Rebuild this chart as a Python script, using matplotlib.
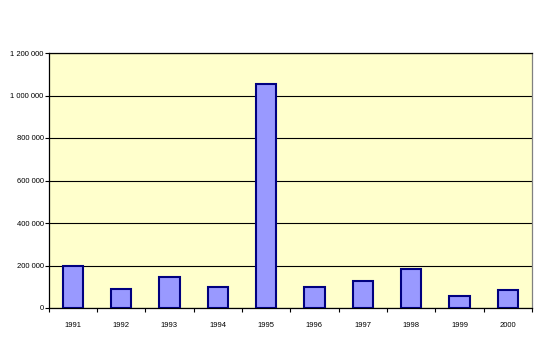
import matplotlib
matplotlib.use("Agg")
import matplotlib.pyplot as plt
import numpy as np
from matplotlib.ticker import FuncFormatter, FixedLocator

years = ["1991", "1992", "1993", "1994", "1995", "1996", "1997", "1998", "1999", "2000"]
values = [198000, 89000, 147000, 99000, 1056000, 99000, 128000, 185000, 56000, 84000]
yticks = [0, 200000, 400000, 600000, 800000, 1000000, 1200000]

plt.rcParams['font.family'] = ['Liberation Sans', 'DejaVu Sans']

fig = plt.figure(figsize=(5.43, 3.37), dpi=100)
fig.patch.set_facecolor('white')
ax = fig.add_axes([48.5/543, (337-308)/337, (532-48.5)/543, (308-53)/337])
ax.set_facecolor('#FFFFCC')

x = np.arange(len(years))
ax.bar(x, values, width=0.42, color='#9999FF', edgecolor='#000080', linewidth=1.5, zorder=3)

ax.set_xlim(-0.5, len(years) - 0.5)
ax.set_ylim(0, 1200000)
ax.set_yticks(yticks)
ax.yaxis.set_major_formatter(FuncFormatter(lambda v, p: f"{int(v):,}".replace(",", " ")))
ax.yaxis.grid(True, color='black', linewidth=0.8, zorder=1)
ax.set_axisbelow(True)

ax.set_xticks(x)
ax.set_xticklabels(years)
ax.xaxis.set_minor_locator(FixedLocator(np.arange(-0.5, len(years), 1.0)))
ax.tick_params(axis='x', which='major', length=0, pad=10, labelsize=5.5)
ax.tick_params(axis='x', which='minor', length=3, width=0.8, direction='out')
ax.tick_params(axis='y', which='major', length=3, width=0.8, direction='out', pad=0.5, labelsize=5.5)

for s in ['left', 'bottom', 'top']:
    ax.spines[s].set_color('black')
    ax.spines[s].set_linewidth(0.9)
ax.spines['right'].set_color('#808080')
ax.spines['right'].set_linewidth(0.9)

fig.savefig('out.png', dpi=100)
